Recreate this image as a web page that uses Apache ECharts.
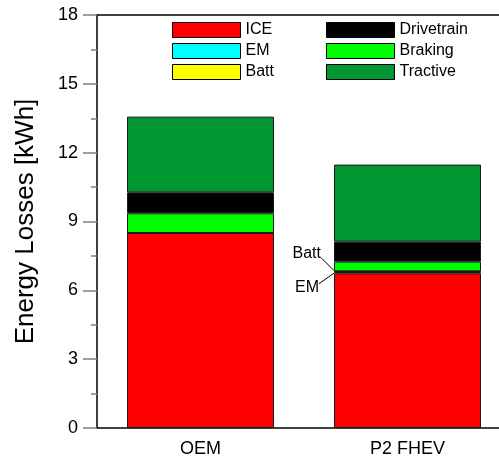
<!DOCTYPE html>
<html>
<head>
<meta charset="utf-8">
<script src="https://cdn.jsdelivr.net/npm/echarts@6/dist/echarts.min.js"></script>
<style>
  html, body { margin: 0; padding: 0; background: #fff; }
  #chart { width: 499px; height: 459px; }
</style>
</head>
<body>
<div id="chart"></div>
<script>
// Energy loss breakdown per vehicle configuration (kWh)
const categories = ['OEM', 'P2 FHEV'];
const iceLoss = [8.50, 6.74];
const emLoss = [0.00, 0.06];
const battLoss = [0.00, 0.03];
const brakingLoss = [0.86, 0.42];
const drivetrainLoss = [0.91, 0.87];
const tractiveLoss = [3.30, 3.36];
const yTicks = [0, 3, 6, 9, 12, 15, 18];

const font = 'Liberation Sans, Arial, sans-serif';

const seriesDefs = [
  { name: 'ICE', data: iceLoss, color: '#ff0000' },
  { name: 'EM', data: emLoss, color: '#00ffff' },
  { name: 'Batt', data: battLoss, color: '#ffff00' },
  { name: 'Braking', data: brakingLoss, color: '#00ff00' },
  { name: 'Drivetrain', data: drivetrainLoss, color: '#000000' },
  { name: 'Tractive', data: tractiveLoss, color: '#009632' }
];

const BAR_W = 147;

const chart = echarts.init(document.getElementById('chart'), null, { renderer: 'canvas' });

const legendCommon = {
  orient: 'vertical',
  top: 22,
  padding: 0,
  itemWidth: 68,
  itemHeight: 15,
  itemGap: 5,
  icon: 'rect',
  selectedMode: false,
  itemStyle: { borderColor: '#000', borderWidth: 1 },
  textStyle: { fontFamily: font, fontSize: 16, color: '#000' }
};

chart.setOption({
  animation: false,
  backgroundColor: '#fff',
  grid: { left: 97, top: 15, width: 414, height: 413, containLabel: false, outerBoundsMode: 'none' },
  legend: [
    Object.assign({ left: 172, data: ['ICE', 'EM', 'Batt'] }, legendCommon),
    Object.assign({ left: 326, data: ['Drivetrain', 'Braking', 'Tractive'] }, legendCommon)
  ],
  xAxis: [
    {
      type: 'category',
      data: categories,
      axisLine: { show: true, lineStyle: { color: '#000', width: 1.5 } },
      axisTick: { show: false },
      axisLabel: { fontFamily: font, fontSize: 18, color: '#000', margin: 12 }
    },
    {
      type: 'category',
      data: categories,
      position: 'top',
      axisLine: { show: true, lineStyle: { color: '#000', width: 1.5 } },
      axisTick: { show: false },
      axisLabel: { show: false }
    }
  ],
  yAxis: {
    type: 'value',
    min: yTicks[0],
    max: yTicks[yTicks.length - 1],
    interval: 3,
    name: 'Energy Losses [kWh]',
    nameLocation: 'middle',
    nameGap: 58,
    nameTextStyle: { fontFamily: font, fontSize: 26, color: '#000' },
    axisLine: { show: true, lineStyle: { color: '#000', width: 1.5 } },
    axisTick: { show: true, inside: false, length: 14, lineStyle: { color: '#808080', width: 1.5 } },
    minorTick: { show: true, splitNumber: 2, length: 6, lineStyle: { color: '#808080', width: 1.5 } },
    splitLine: { show: false },
    axisLabel: { fontFamily: font, fontSize: 18, color: '#000', margin: 19 }
  },
  series: seriesDefs.map(s => ({
    name: s.name,
    type: 'bar',
    stack: 'loss',
    barWidth: BAR_W,
    data: s.data,
    itemStyle: { color: s.color, borderColor: '#1a1a1a', borderWidth: 1 },
    emphasis: { disabled: true }
  }))
});

// Callouts for the thin EM and Batt layers of the P2 FHEV bar
function drawCallouts() {
  const idx = 1;
  const cx = chart.convertToPixel({ xAxisIndex: 0 }, categories[idx]);
  const barLeft = cx - BAR_W / 2;
  const base = iceLoss[idx];
  const yEm = chart.convertToPixel({ yAxisIndex: 0 }, base + emLoss[idx] / 2);
  const yBatt = chart.convertToPixel({ yAxisIndex: 0 }, base + emLoss[idx] + battLoss[idx] / 2);
  const txt = { fontFamily: font, fontSize: 16, fill: '#000' };
  chart.setOption({
    graphic: [
      { type: 'line', shape: { x1: barLeft, y1: yBatt - 1, x2: barLeft - 13, y2: yBatt - 14 },
        style: { stroke: '#000', lineWidth: 1 }, z: 100 },
      { type: 'line', shape: { x1: barLeft, y1: yEm + 0.5, x2: barLeft - 15, y2: yEm + 11 },
        style: { stroke: '#000', lineWidth: 1 }, z: 100 },
      { type: 'text', x: barLeft - 13, y: yBatt - 18,
        style: Object.assign({ text: 'Batt', textAlign: 'right', textVerticalAlign: 'middle' }, txt), z: 100 },
      { type: 'text', x: barLeft - 15, y: yEm + 15,
        style: Object.assign({ text: 'EM', textAlign: 'right', textVerticalAlign: 'middle' }, txt), z: 100 }
    ]
  });
}
drawCallouts();
</script>
</body>
</html>
